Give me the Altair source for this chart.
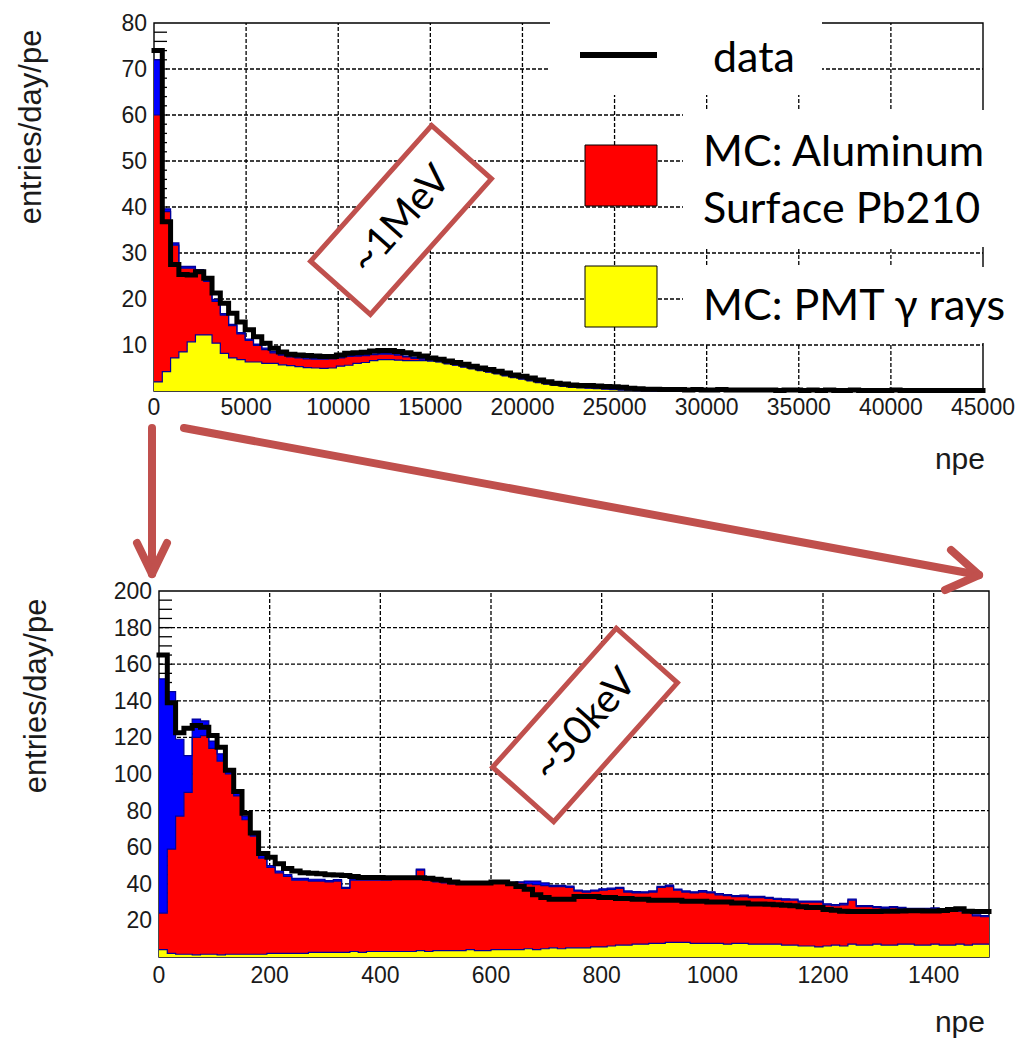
import altair as alt
import pandas as pd

# ---------------- upper panel: 100 bins of 450 npe on 0..45000 ----------------
top_bin_width = 450
top_data = [74, 36.8, 27.5, 25.3, 25.2, 25.9, 24.5, 21.3, 19.1, 16.9,
            15.0, 13.3, 11.8, 10.4, 9.3, 8.5, 8.0, 7.8, 7.7, 7.6,
            7.5, 7.5, 7.8, 8.2, 8.3, 8.4, 8.7, 8.8, 8.8, 8.6,
            8.3, 8.0, 7.6, 7.2, 6.9, 6.5, 6.2, 5.8, 5.4, 5.0,
            4.7, 4.3, 3.9, 3.5, 3.2, 2.8, 2.4, 2.0, 1.7, 1.5,
            1.3, 1.2, 1.2, 1.1, 1.0, 0.9, 0.8, 0.6, 0.5, 0.4,
            0.4, 0.3, 0.3, 0.3, 0.2, 0.3, 0.2, 0.2, 0.3, 0.2,
            0.2, 0.2, 0.2, 0.2, 0.2, 0.1, 0.2, 0.2, 0.1, 0.2,
            0.1, 0.2, 0.1, 0.1, 0.2, 0.1, 0.1, 0.1, 0.1, 0.2,
            0.1, 0.1, 0.1, 0.1, 0.1, 0.1, 0.1, 0.1, 0.1, 0.1]
# MC: PMT gamma rays (yellow, bottom of the stack)
top_gamma = [2.0, 4.2, 7.2, 8.5, 10.7, 12.2, 12.2, 10.4, 8.2, 7.2,
             6.8, 6.3, 6.3, 6.0, 6.0, 5.7, 5.5, 5.3, 5.1, 5.0,
             4.9, 5.0, 5.4, 5.6, 6.0, 6.2, 6.6, 6.8, 6.8, 6.7,
             6.6, 6.6, 6.6, 6.5, 6.3, 5.9, 5.6, 5.2, 4.8, 4.4,
             4.1, 3.7, 3.3, 2.9, 2.6, 2.2, 1.8, 1.5, 1.2, 1.0,
             0.8, 0.7, 0.6, 0.5, 0.4, 0.3, 0.2, 0.2, 0.1, 0.1,
             0.1, 0.1, 0.1, 0.1, 0, 0, 0, 0, 0, 0,
             0, 0, 0, 0, 0, 0, 0, 0, 0, 0,
             0, 0, 0, 0, 0, 0, 0, 0, 0, 0,
             0, 0, 0, 0, 0, 0, 0, 0, 0, 0]
# stacked level: gamma + Aluminum surface Pb210 (red)
top_alu_stack = [60, 39, 31.7, 26.7, 26.7, 26.0, 23.8, 19.5, 16.5, 14.2,
                 12.4, 11.0, 9.9, 9.0, 8.3, 7.8, 7.4, 7.2, 7.0, 6.9,
                 6.9, 7.0, 7.2, 7.5, 7.6, 7.7, 7.9, 8.0, 8.0, 7.8,
                 7.4, 7.1, 6.9, 6.7, 6.4, 6.0, 5.7, 5.3, 4.9, 4.5,
                 4.2, 3.8, 3.4, 3.0, 2.7, 2.3, 1.9, 1.6, 1.3, 1.1,
                 0.9, 0.8, 0.7, 0.6, 0.5, 0.4, 0.3, 0.3, 0.2, 0.2,
                 0.1, 0.1, 0.1, 0.1, 0, 0, 0, 0, 0, 0,
                 0, 0, 0, 0, 0, 0, 0, 0, 0, 0,
                 0, 0, 0, 0, 0, 0, 0, 0, 0, 0,
                 0, 0, 0, 0, 0, 0, 0, 0, 0, 0]
# blue component on top of the stack
top_other = [12, 0.6, 0.5, 0.4, 0.4, 0.4, 0.4, 0.4, 0.3, 0.3,
             0.3, 0.3, 0.3, 0.3, 0.3, 0.3, 0.3, 0.3, 0.3, 0.3,
             0.2, 0.2, 0.2, 0.2, 0.2, 0.2, 0.2, 0.2, 0.2, 0.2,
             0.2, 0.2, 0.2, 0.2, 0.2, 0.2, 0.2, 0.2, 0.2, 0.2,
             0.2, 0.2, 0.2, 0.2, 0.2, 0.2, 0.2, 0.2, 0.2, 0.2,
             0.2, 0.2, 0.2, 0.2, 0.2, 0.2, 0.2, 0.2, 0.2, 0.2,
             0, 0, 0, 0, 0, 0, 0, 0, 0, 0,
             0, 0, 0, 0, 0, 0, 0, 0, 0, 0,
             0, 0, 0, 0, 0, 0, 0, 0, 0, 0,
             0, 0, 0, 0, 0, 0, 0, 0, 0, 0]

# ---------------- lower panel: 100 bins of 15 npe on 0..1500 ----------------
low_bin_width = 15
low_data = [165, 139, 122.5, 125, 126.5, 125.5, 121, 114.6, 102, 90.5,
            78.5, 67.8, 56.6, 54.5, 51, 48.4, 47, 46, 45.8, 45.5,
            45, 44.8, 44.5, 44, 43.5, 43.5, 43.5, 43.3, 43.3, 43.3,
            43.3, 43.3, 43, 42.5, 42, 41, 40.5, 40.5, 40.5, 40.5,
            41, 41, 40, 38.5, 37, 34, 32.5, 31.5, 31.5, 31.5,
            33, 33, 33, 32.5, 32.5, 32, 32, 31.5, 31.5, 31,
            31, 31, 31, 30.5, 30.5, 30.5, 30, 30, 30, 29.5,
            29.5, 29, 29, 28.8, 28.5, 28.3, 28, 27.5, 27, 27,
            26, 25.5, 25, 24.8, 24.8, 24.8, 24.8, 25, 25, 25.2,
            25.3, 25.3, 25.2, 25.2, 25.4, 26, 26.3, 25, 24.8, 24.8]
low_gamma = [4, 2, 1.5, 1.5, 1.2, 1.5, 1.5, 1.2, 1.5, 1.5,
             1.5, 1.5, 1.5, 2, 2, 2, 2, 2, 2.5, 2.5,
             2.5, 2.5, 2.5, 3, 2.5, 3, 3, 3, 3, 3,
             3, 3.5, 3, 3.5, 3.5, 3.5, 3.5, 4, 3.5, 3.5,
             4, 4, 4, 4, 4.5, 4, 4.5, 5, 4.5, 5,
             5, 5, 5.5, 5.5, 6, 6.5, 6.5, 7, 7, 7.5,
             7.5, 8, 8, 8, 7.5, 7.5, 7.5, 7.5, 7, 7.5,
             7.5, 7, 7, 7, 7, 6.5, 6.5, 6, 6, 5.5,
             6, 6.5, 6, 7, 6.5, 6.5, 7, 6.5, 6.5, 7,
             7, 6.5, 6.5, 7, 6.5, 6.5, 7, 6.5, 7, 7]
low_alu_stack = [24, 59, 77, 90, 120, 121, 114, 107, 100, 88,
                 75, 66, 54, 49, 46, 44, 42, 42, 41.5, 41.5,
                 41, 41.5, 37.5, 42, 42, 42, 42, 42, 42.5, 42.5,
                 42.5, 47.5, 42, 41, 40.5, 40, 40, 40, 40.5, 40,
                 41, 40.5, 40, 40.5, 40, 39.5, 39, 38.5, 38.5, 38,
                 36, 35.5, 36, 36.5, 37, 37.5, 35.5, 35, 35, 35.5,
                 38, 38.5, 36.5, 35.5, 35, 35.5, 35, 34, 33.5, 33,
                 33, 32.5, 32.5, 32, 31.5, 31, 31, 30, 30, 30,
                 28.5, 28, 28.5, 31, 27.5, 27.5, 27, 26.5, 27, 26.5,
                 26, 26, 26, 26, 25.5, 25, 25, 25, 22.5, 22]
low_other = [128, 86, 42, 20, 10, 8, 4, 4, 3, 3,
             2, 1.5, 1.5, 1, 1, 1, 1, 1, 1, 1,
             0.8, 0.8, 0.6, 0.6, 0.8, 0.6, 0.6, 0.8, 0.6, 0.6,
             0.6, 0.6, 0.8, 0.6, 0.6, 0.8, 0.6, 0.6, 0.6, 0.8,
             0.6, 0.6, 0.8, 0.6, 1.5, 2, 1.5, 0.6, 0.6, 0.8,
             0.6, 0.6, 0.6, 0.8, 0.6, 0.6, 0.6, 0.8, 0.6, 0.6,
             0.6, 0.8, 0.6, 0.6, 0.6, 0.8, 0.6, 0.6, 0.6, 0.6,
             0.8, 0.6, 0.6, 0.6, 0.6, 0.8, 0.6, 0.6, 0.6, 0.6,
             0.6, 0.6, 0.8, 0.6, 0.6, 0.6, 0.6, 0.8, 0.6, 0.6,
             0.6, 0.6, 0.6, 0.8, 0.6, 0.6, 0.6, 0.6, 0.6, 0.6]

top_x_ticks = [0, 5000, 10000, 15000, 20000, 25000, 30000, 35000, 40000, 45000]
top_y_ticks = [10, 20, 30, 40, 50, 60, 70, 80]
low_x_ticks = [0, 200, 400, 600, 800, 1000, 1200, 1400]
low_y_ticks = [20, 40, 60, 80, 100, 120, 140, 160, 180, 200]

y_title = "entries/day/pe"
x_title = "npe"
legend_labels = ["data", "MC: Aluminum", "Surface Pb210", "MC: PMT \u03b3 rays"]
top_note = "~1MeV"
low_note = "~50keV"

ANN = "#C0504D"
OUTLINE = "#000099"
TXT = "#1a1a1a"
TFONT = "Liberation Sans"
LFONT = "Lato"


def hist_df(width, data, gamma, alu, other):
    n = len(data)
    rows = []
    for i in range(n + 1):
        j = min(i, n - 1)
        rows.append({"x": i * width, "data": data[j], "g": gamma[j],
                     "r": alu[j], "b": other[j]})
    return pd.DataFrame(rows)


def panel(df, xdom, xr, ydom, yr, xticks, yticks, minor_step, xlab_base,
          ylab_right, tick_len):
    xs = alt.Scale(domain=xdom, range=xr, nice=False, zero=False)
    ys = alt.Scale(domain=ydom, range=yr, nice=False, zero=False)

    def X(f):
        return alt.X(f, scale=xs, axis=None)

    def Y(f):
        return alt.Y(f, scale=ys, axis=None)

    one = pd.DataFrame({"a": [0]})
    xgrid = [v for v in xticks if xdom[0] < v < xdom[1]]
    ygrid = [v for v in yticks if ydom[0] < v < ydom[1]]
    minor = [v for v in range(minor_step, ydom[1], minor_step) if v not in yticks]

    frame = alt.Chart(one).mark_rect(fill="transparent", stroke="black", strokeWidth=1.4).encode(
        x=alt.X(datum=xdom[0], scale=xs, axis=None), x2=alt.X2(datum=xdom[1]),
        y=alt.Y(datum=ydom[0], scale=ys, axis=None), y2=alt.Y2(datum=ydom[1]))
    gx = alt.Chart(pd.DataFrame({"t": xgrid})).mark_rule(
        color="black", strokeWidth=1.3, strokeDash=[4, 2]).encode(
        x=X("t:Q"), y=alt.Y(datum=ydom[0], scale=ys, axis=None), y2=alt.Y2(datum=ydom[1]))
    gy = alt.Chart(pd.DataFrame({"t": ygrid})).mark_rule(
        color="black", strokeWidth=1.3, strokeDash=[4, 2]).encode(
        y=Y("t:Q"), x=alt.X(datum=xdom[0], scale=xs, axis=None), x2=alt.X2(datum=xdom[1]))
    ticks = alt.Chart(pd.DataFrame({"t": ygrid + minor})).mark_rule(
        color="black", strokeWidth=1.3).encode(
        y=Y("t:Q"), x=alt.value(xr[0]), x2=alt.value(xr[0] + tick_len))

    h = alt.Chart(df).transform_calculate(t="datum.r + datum.b")
    yel = h.mark_area(interpolate="step-after", color="#FFFF00", opacity=1).encode(
        x=X("x:Q"), y=Y("g:Q"), y2=alt.Y2(datum=0))
    red = h.mark_area(interpolate="step-after", color="#FF0000", opacity=1).encode(
        x=X("x:Q"), y=Y("r:Q"), y2="g:Q")
    blu = h.mark_area(interpolate="step-after", color="#0000FF", opacity=1).encode(
        x=X("x:Q"), y=Y("t:Q"), y2="r:Q")
    outl = [h.mark_line(interpolate="step-after", color=OUTLINE, strokeWidth=1.2).encode(
        x=X("x:Q"), y=Y(f"{f}:Q")) for f in ("g", "r", "t")]
    dat = h.mark_line(interpolate="step-after", color="black", strokeWidth=5,
                      strokeJoin="miter", strokeCap="square").encode(
        x=X("x:Q"), y=Y("data:Q"))

    xl = alt.Chart(pd.DataFrame({"t": xticks, "lab": [str(v) for v in xticks]})).mark_text(
        font=TFONT, fontSize=23, color=TXT, align="center", baseline="alphabetic").encode(
        x=X("t:Q"), y=alt.value(xlab_base), text="lab:N")
    yl = alt.Chart(pd.DataFrame({"t": yticks, "lab": [str(v) for v in yticks]})).mark_text(
        font=TFONT, fontSize=23, color=TXT, align="right", baseline="alphabetic", dy=8).encode(
        x=alt.value(ylab_right), y=Y("t:Q"), text="lab:N")

    return alt.layer(frame, gx, gy, ticks, yel, red, blu, *outl, dat, xl, yl)


top_df = hist_df(top_bin_width, top_data, top_gamma, top_alu_stack, top_other)
low_df = hist_df(low_bin_width, low_data, low_gamma, low_alu_stack, low_other)

top_panel = panel(top_df, [0, 45000], [154, 983], [0, 80], [391, 23],
                  top_x_ticks, top_y_ticks, 2, 415, 147, 13)
low_panel = panel(low_df, [0, 1500], [159, 989], [0, 200], [957, 591],
                  low_x_ticks, low_y_ticks, 5, 983, 152, 13)

one = pd.DataFrame({"a": [0]})


def text(s, x, y, **kw):
    return alt.Chart(pd.DataFrame({"s": [s]})).mark_text(**kw).encode(
        x=alt.value(x), y=alt.value(y), text="s:N")


def rect(x, y, x2, y2, **kw):
    return alt.Chart(one).mark_rect(**kw).encode(
        x=alt.value(x), y=alt.value(y), x2=alt.value(x2), y2=alt.value(y2))


def seg(x, y, x2, y2, **kw):
    return alt.Chart(one).mark_rule(**kw).encode(
        x=alt.value(x), y=alt.value(y), x2=alt.value(x2), y2=alt.value(y2))


ann = []
# axis titles
ann.append(text(y_title, 32, 127, font=TFONT, fontSize=31, color=TXT, angle=270,
                align="center", baseline="middle"))
ann.append(text(y_title, 37, 696, font=TFONT, fontSize=31, color=TXT, angle=270,
                align="center", baseline="middle"))
ann.append(text(x_title, 985, 469, font=TFONT, fontSize=30, color=TXT, align="right",
                baseline="alphabetic"))
ann.append(text(x_title, 985, 1032, font=TFONT, fontSize=30, color=TXT, align="right",
                baseline="alphabetic"))

# legend (white text boxes over the grid)
ann.append(rect(550, 4, 822, 95, fill="white"))
ann.append(rect(683, 110, 1008, 247, fill="white"))
ann.append(rect(683, 267, 1012, 343, fill="white"))
ann.append(seg(580, 55, 657, 55, color="black", strokeWidth=6))
ann.append(rect(585, 145, 657, 206, fill="#FF0000", stroke="black", strokeWidth=1))
ann.append(rect(585, 266, 657, 327, fill="#FFFF00", stroke="black", strokeWidth=1))
ann.append(text(legend_labels[0], 713, 72, font=LFONT, fontSize=43, color="black",
                align="left", baseline="alphabetic"))
ann.append(text(legend_labels[1], 703, 166, font=LFONT, fontSize=43, color="black",
                align="left", baseline="alphabetic"))
ann.append(text(legend_labels[2], 703, 223, font=LFONT, fontSize=43, color="black",
                align="left", baseline="alphabetic"))
ann.append(text(legend_labels[3], 703, 320, font=LFONT, fontSize=43, color="black",
                align="left", baseline="alphabetic"))

# rotated call-out boxes
box_shape = "M -1 -0.44 L 1 -0.44 L 1 0.44 L -1 0.44 Z"
for (cx, cy, ln, note) in [(401, 220, 182, top_note), (585, 725, 186, low_note)]:
    ann.append(alt.Chart(one).mark_point(shape=box_shape, size=ln * ln, angle=311.7,
                                         filled=True, fill="white", stroke=ANN,
                                         strokeWidth=5, opacity=1).encode(
        x=alt.value(cx), y=alt.value(cy)))
    ann.append(text(note, cx, cy, font=LFONT, fontSize=40, color="black", angle=311.7,
                    align="center", baseline="middle"))

# arrows
arrow_kw = dict(color=ANN, strokeWidth=8, strokeCap="round")
ann.append(seg(152, 428, 152, 574, **arrow_kw))
ann.append(seg(137, 543, 152, 574, **arrow_kw))
ann.append(seg(167, 543, 152, 574, **arrow_kw))
ann.append(seg(184, 428, 979, 575, **arrow_kw))
ann.append(seg(951, 550, 979, 575, **arrow_kw))
ann.append(seg(945, 590, 979, 575, **arrow_kw))

chart = alt.layer(top_panel, low_panel, *ann).resolve_scale(
    x="independent", y="independent").properties(
    width=1021, height=1041, autosize=alt.AutoSizeParams(type="none"), padding=0
).configure_view(stroke=None)

chart.save("out.html", embed_options={"renderer": "svg", "actions": False})
